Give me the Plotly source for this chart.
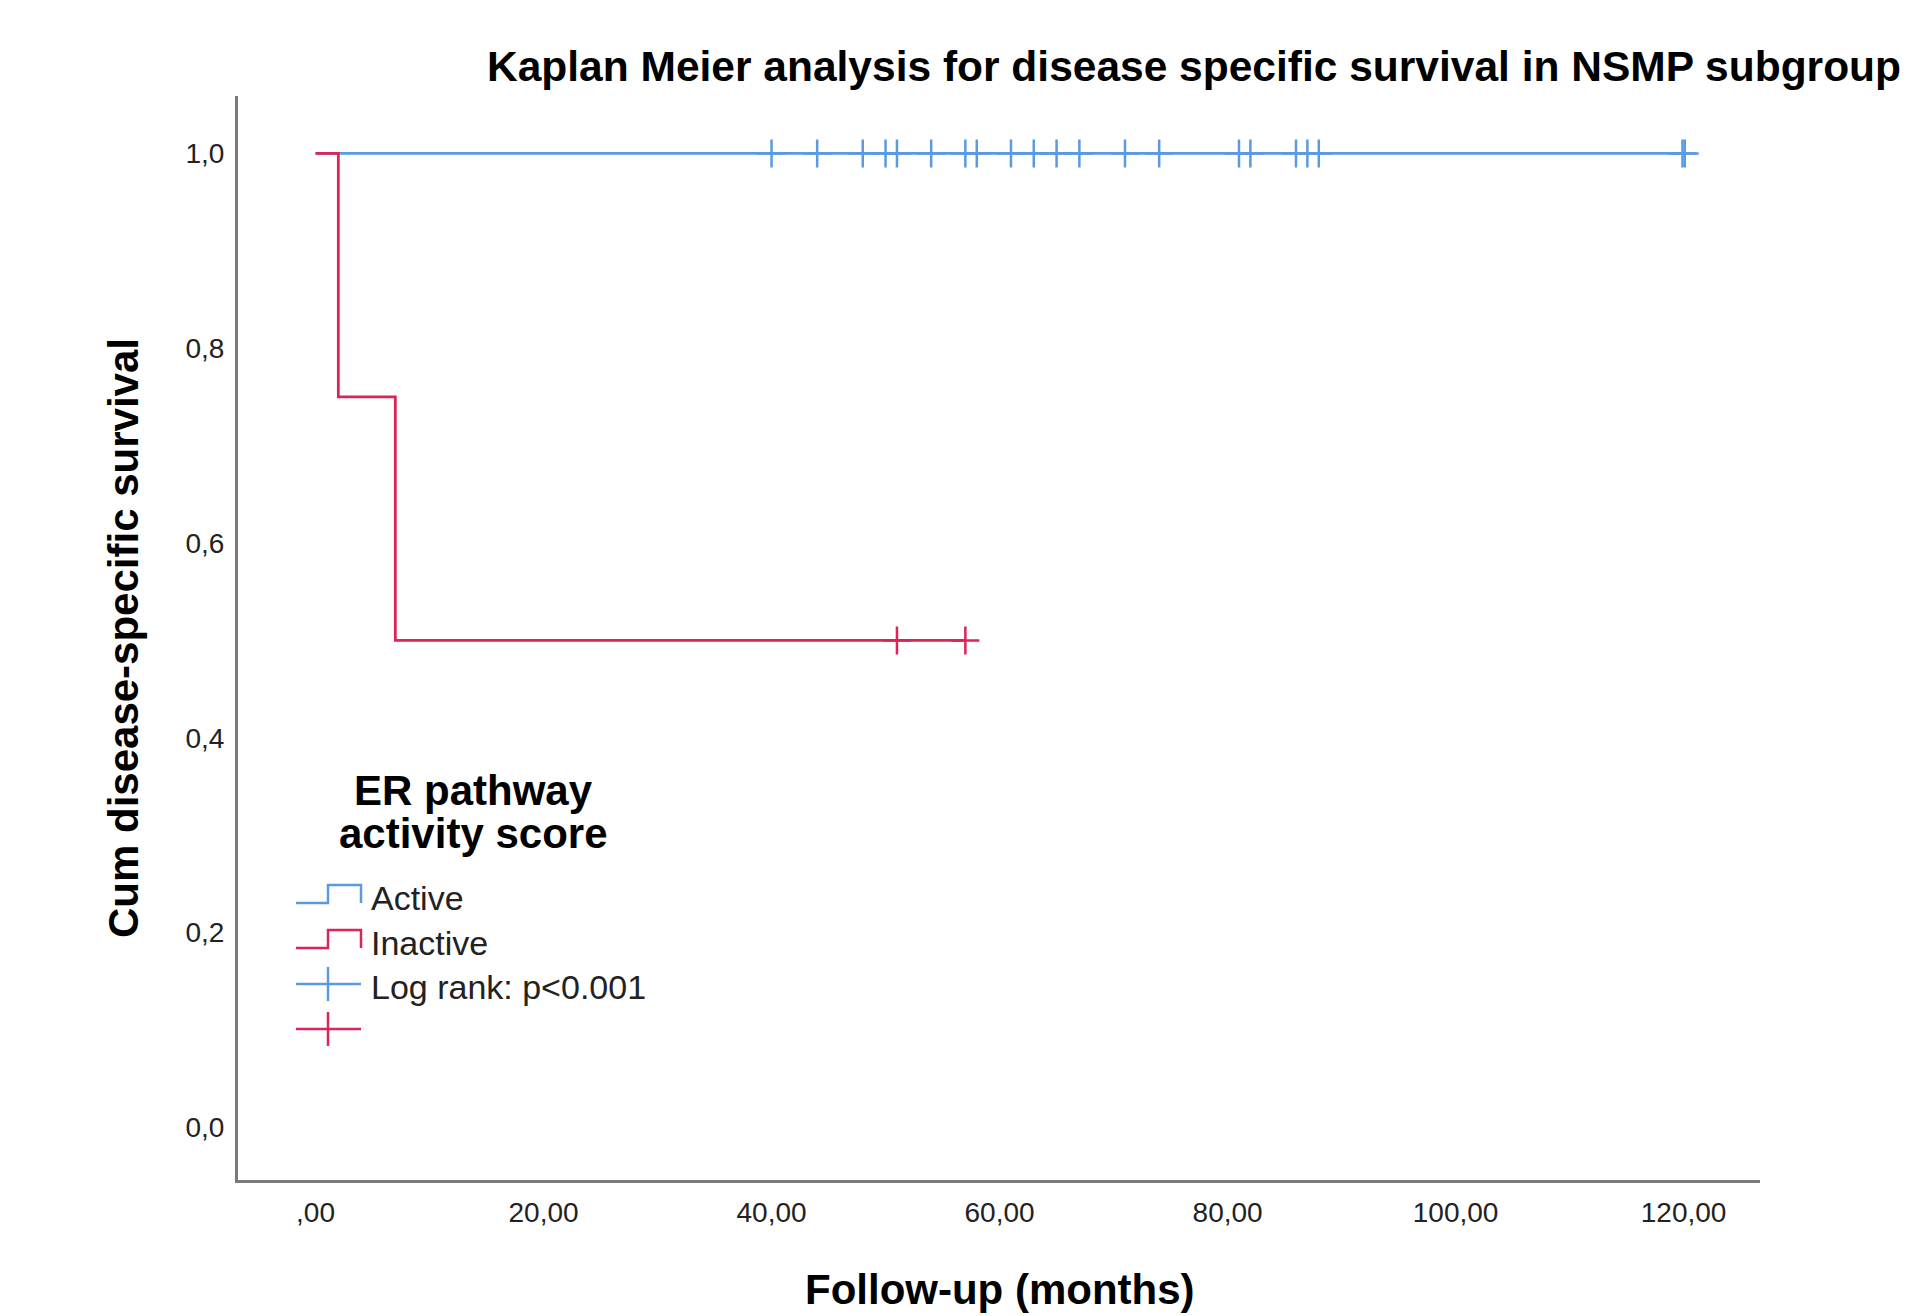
import plotly.graph_objects as go

# ---------------- data ----------------
active_times = [0, 120]
active_surv = [1.0, 1.0]
active_censored = [40, 44, 48, 50, 51, 54, 57, 58, 61, 63, 65, 67, 71, 74,
                   81, 82, 86, 87, 88, 119.9, 120.1]

inactive_times = [0, 2, 7, 57]
inactive_surv = [1.0, 0.75, 0.5, 0.5]
inactive_censored = [51, 57]

x_tickvals = [0, 20, 40, 60, 80, 100, 120]
x_ticktext = [",00", "20,00", "40,00", "60,00", "80,00", "100,00", "120,00"]
y_tickvals = [0.0, 0.2, 0.4, 0.6, 0.8, 1.0]
y_ticktext = ["0,0", "0,2", "0,4", "0,6", "0,8", "1,0"]

title_text = "Kaplan Meier analysis for disease specific survival in NSMP subgroup"
x_title = "Follow-up (months)"
y_title = "Cum disease-specific survival"
legend_title = ["ER pathway", "activity score"]
legend_labels = ["Active", "Inactive", "Log rank: p<0.001"]

BLUE = "#5A9AE2"
RED = "#DC2457"
FONT = "Liberation Sans, Arial"

# ---------------- layout geometry ----------------
W, H = 1925, 1316
L, R, T, B = 238, 1760, 96, 1180


def px(X):
    return (X - L) / (R - L)


def py(Y):
    return (B - Y) / (B - T)


def surv_at(times, surv, t):
    s = surv[0]
    for ti, si in zip(times, surv):
        if ti <= t:
            s = si
    return s


fig = go.Figure()

fig.add_trace(go.Scatter(x=active_times, y=active_surv, mode="lines",
                         line=dict(color=BLUE, width=2.8, shape="hv"),
                         showlegend=False, hoverinfo="skip"))
fig.add_trace(go.Scatter(x=active_censored,
                         y=[surv_at(active_times, active_surv, t) for t in active_censored],
                         mode="markers",
                         marker=dict(symbol="cross-thin", size=20,
                                     line=dict(color=BLUE, width=2.5)),
                         showlegend=False, hoverinfo="skip"))

fig.add_trace(go.Scatter(x=inactive_times, y=inactive_surv, mode="lines",
                         line=dict(color=RED, width=2.8, shape="hv"),
                         showlegend=False, hoverinfo="skip"))
fig.add_trace(go.Scatter(x=inactive_censored,
                         y=[surv_at(inactive_times, inactive_surv, t) for t in inactive_censored],
                         mode="markers",
                         marker=dict(symbol="cross-thin", size=20,
                                     line=dict(color=RED, width=2.5)),
                         showlegend=False, hoverinfo="skip"))

shapes = []
annotations = []

annotations.append(dict(text="<b>%s</b>" % title_text, x=px(1194), y=py(67), xref="paper",
                        yref="paper", showarrow=False, xanchor="center", yanchor="middle",
                        font=dict(family=FONT, size=42.5, color="black")))
annotations.append(dict(text="<b>%s</b>" % x_title, x=px(1000), y=py(1289), xref="paper",
                        yref="paper", showarrow=False, xanchor="center", yanchor="middle",
                        font=dict(family=FONT, size=42, color="black")))
annotations.append(dict(text="<b>%s</b>" % y_title, x=px(123), y=py(638), xref="paper",
                        yref="paper", showarrow=False, xanchor="center", yanchor="middle",
                        textangle=-90,
                        font=dict(family=FONT, size=42, color="black")))

for i, line in enumerate(legend_title):
    annotations.append(dict(text="<b>%s</b>" % line, x=px(473), y=py(790 + 43 * i),
                            xref="paper", yref="paper", showarrow=False,
                            xanchor="center", yanchor="middle",
                            font=dict(family=FONT, size=42, color="black")))

gx0, gxm, gx1 = 296, 328, 361
for color, (lo, hi) in [(BLUE, (903, 885)), (RED, (948, 930))]:
    path = "M {a},{b} L {c},{b} L {c},{d} L {e},{d} L {e},{b}".format(
        a=px(gx0), b=py(lo), c=px(gxm), d=py(hi), e=px(gx1))
    shapes.append(dict(type="path", path=path, xref="paper", yref="paper",
                       line=dict(color=color, width=2.5)))
for color, yc in [(BLUE, 984), (RED, 1029)]:
    shapes.append(dict(type="line", x0=px(gx0), x1=px(gx1), y0=py(yc), y1=py(yc),
                       xref="paper", yref="paper", line=dict(color=color, width=2.5)))
    shapes.append(dict(type="line", x0=px(gxm), x1=px(gxm), y0=py(yc - 17), y1=py(yc + 17),
                       xref="paper", yref="paper", line=dict(color=color, width=2.5)))

for lbl, yc in zip(legend_labels, [898, 943, 987]):
    annotations.append(dict(text=lbl, x=px(369), y=py(yc), xref="paper", yref="paper",
                            showarrow=False, xanchor="left", yanchor="middle",
                            font=dict(family=FONT, size=34, color="#222")))

fig.update_layout(
    width=W, height=H,
    margin=dict(l=L, r=W - R, t=T, b=H - B, pad=0),
    paper_bgcolor="white", plot_bgcolor="white",
    shapes=shapes, annotations=annotations,
    showlegend=False,
)

fig.update_xaxes(range=[-6.8, 126.7], tickvals=x_tickvals, ticktext=x_ticktext,
                 showgrid=False, zeroline=False, showline=True, linecolor="#7a7a7a",
                 linewidth=3, ticks="", ticklabelstandoff=5,
                 tickfont=dict(family=FONT, size=28, color="#222"))
fig.update_yaxes(range=[-0.054, 1.059], tickvals=y_tickvals, ticktext=y_ticktext,
                 showgrid=False, zeroline=False, showline=True, linecolor="#7a7a7a",
                 linewidth=3, ticks="", ticklabelstandoff=5,
                 tickfont=dict(family=FONT, size=28, color="#222"))

fig.write_html("out.html", config={"displayModeBar": False},
               post_script="document.body.style.margin='0px';document.body.style.overflow='hidden';")
